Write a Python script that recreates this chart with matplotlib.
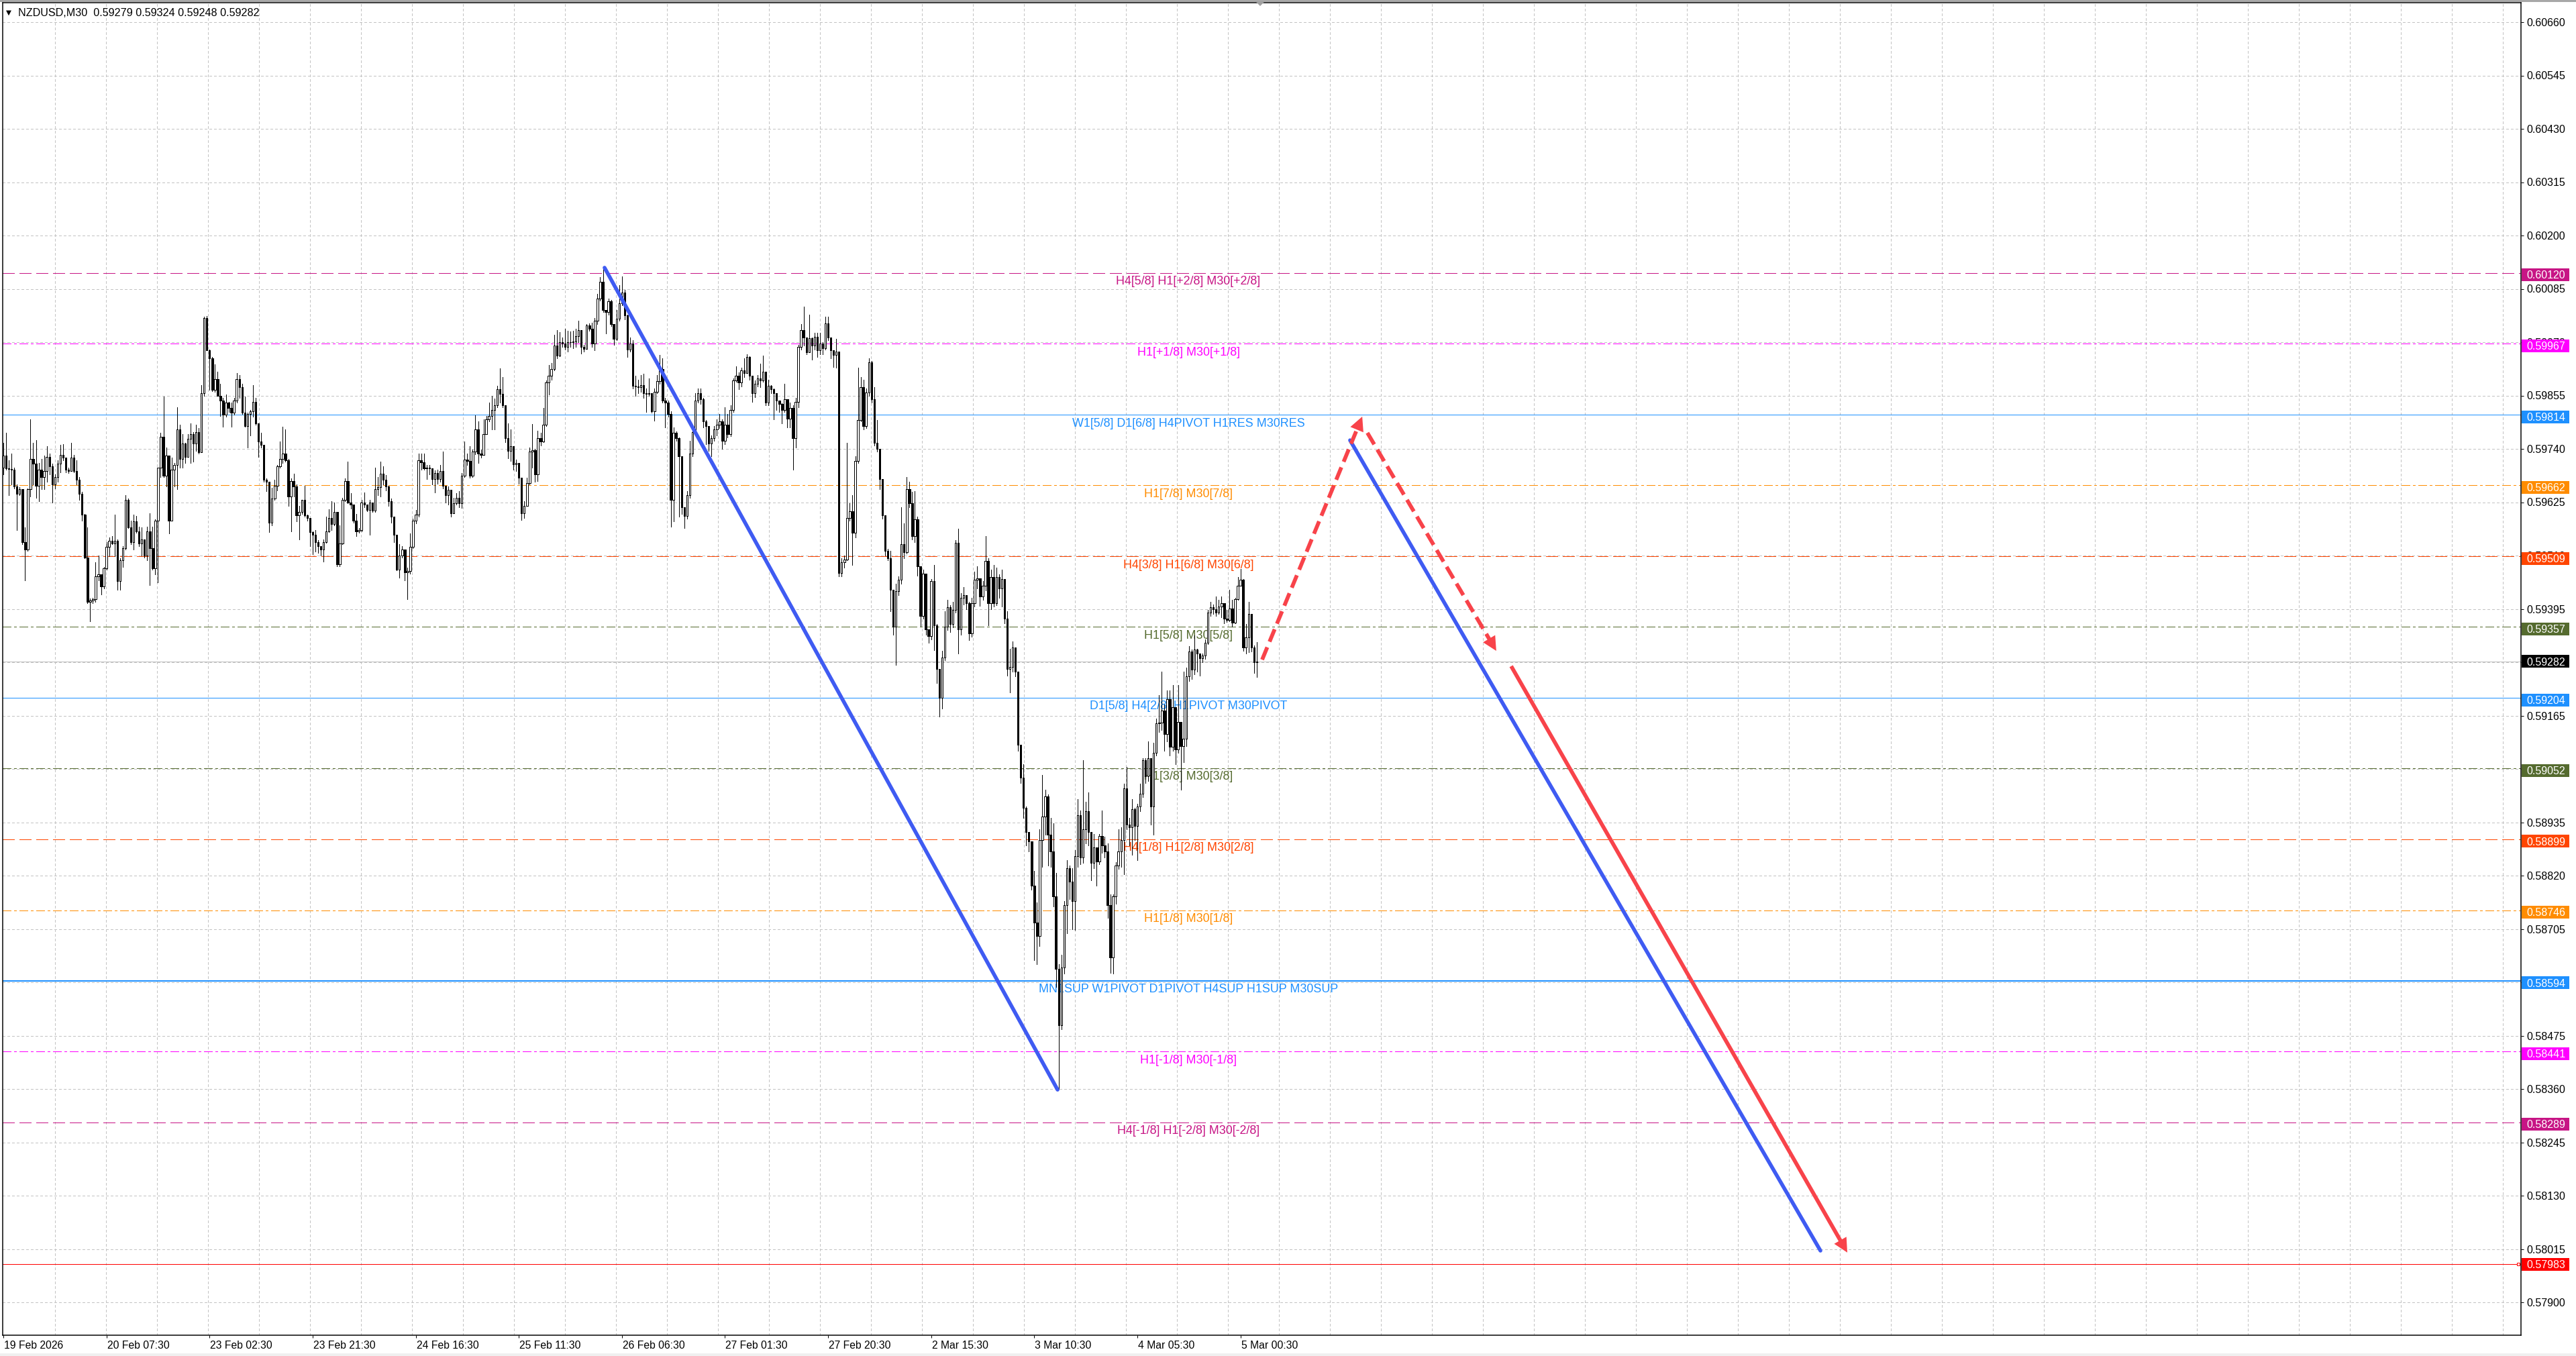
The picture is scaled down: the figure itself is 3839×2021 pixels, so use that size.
import numpy as np
import matplotlib
matplotlib.use("Agg")
import matplotlib.pyplot as plt
from matplotlib.patches import Rectangle, Polygon
from matplotlib.transforms import blended_transform_factory, offset_copy

plt.rcParams['font.family'] = ['Liberation Sans', 'DejaVu Sans']
plt.rcParams['lines.scale_dashes'] = False

# ------------------------------------------------------------------ DATA
title_text = "NZDUSD,M30  0.59279 0.59324 0.59248 0.59282"
PIP = 1e-4
first_open = 5970.0

closes = [
    5972.6, 5969.8, 5969.7, 5969.5, 5966.0, 5964.3, 5965.3, 5954.0, 5952.4, 5965.3,
    5971.8, 5970.8, 5966.1, 5969.5, 5967.9, 5969.2, 5972.3, 5970.3, 5966.4, 5967.9,
    5970.8, 5972.8, 5972.1, 5969.5, 5969.3, 5972.1, 5969.2, 5967.4, 5964.3, 5959.9,
    5950.6, 5941.1, 5941.3, 5941.6, 5946.5, 5947.0, 5944.4, 5948.3, 5952.9, 5954.2,
    5953.7, 5954.2, 5945.5, 5950.1, 5952.7, 5963.0, 5957.1, 5954.0, 5958.4, 5956.3,
    5953.7, 5954.5, 5951.1, 5956.3, 5952.7, 5948.3, 5958.6, 5970.0, 5976.7, 5968.2,
    5972.6, 5958.6, 5969.5, 5970.5, 5978.3, 5971.8, 5975.2, 5972.3, 5976.2, 5977.2,
    5975.2, 5977.7, 5973.3, 5986.0, 6002.3, 5995.3, 5993.5, 5986.8, 5989.1, 5985.5,
    5984.5, 5981.4, 5984.0, 5982.9, 5981.9, 5984.5, 5989.1, 5987.3, 5981.9,
    5979.0, 5981.5, 5982.2, 5984.2, 5979.6, 5975.7, 5974.9, 5967.4, 5966.9, 5958.1,
    5963.3, 5966.1, 5970.3, 5971.8, 5973.1, 5971.6, 5963.8, 5967.1, 5966.0, 5959.7,
    5960.4, 5963.0, 5959.7, 5959.1, 5956.1, 5955.5,
    5954.0, 5953.0, 5952.4,
    5954.0, 5956.3, 5959.1, 5957.8, 5960.4, 5949.1, 5953.7, 5963.0, 5967.1, 5962.5,
    5962.0, 5958.6, 5956.3, 5956.6, 5962.5, 5962.0, 5960.9, 5962.5, 5960.7, 5965.3,
    5965.8, 5968.7, 5967.4, 5965.9, 5962.8, 5959.4, 5955.5, 5948.0, 5951.1, 5952.4,
    5947.5, 5947.7, 5952.9, 5958.6, 5959.9, 5971.6, 5971.1, 5969.8,
    5970.0, 5969.8, 5967.6, 5968.8, 5967.6, 5969.2, 5966.1, 5964.0, 5965.2, 5960.1,
    5962.3, 5963.5, 5962.3, 5968.3, 5971.7, 5971.5, 5968.3, 5973.4, 5978.2, 5973.1,
    5972.7, 5977.2, 5980.4, 5981.1, 5982.5, 5983.5, 5986.9, 5985.9, 5983.5, 5976.3,
    5973.6, 5974.6, 5970.7, 5971.0, 5967.8, 5960.1, 5961.8, 5966.6, 5973.4, 5973.8,
    5968.5, 5976.3, 5975.7, 5979.2, 5988.3, 5989.8, 5991.2, 5996.3, 5994.1, 5997.0,
    5996.8, 5996.0, 5997.0, 5997.1, 5997.2, 5998.4, 5999.6, 5996.0, 5995.6, 6000.6,
    5999.9, 5996.8, 6001.6, 6006.4, 6010.0, 6004.0, 6003.5, 6005.9, 6000.9, 5997.7,
    6002.1, 6005.4, 6007.8, 6002.8,
    5995.5, 5996.8, 5987.6, 5987.5, 5987.4, 5987.8, 5986.0, 5985.9, 5986.0, 5982.1,
    5986.4, 5988.6, 5991.2, 5984.5, 5984.0, 5981.6, 5963.0, 5977.5, 5976.3, 5972.4,
    5961.5, 5959.6, 5964.0, 5973.1, 5977.7, 5984.5,
    5986.1, 5984.7, 5979.9, 5979.0, 5975.2, 5976.3, 5978.2, 5979.2, 5979.9, 5975.8,
    5979.2, 5977.2, 5982.5, 5988.8, 5989.8, 5988.3, 5991.0, 5990.4, 5993.9, 5989.8,
    5986.1, 5988.0, 5989.3, 5988.8, 5990.7, 5984.0, 5987.6, 5986.9, 5986.1, 5984.5,
    5983.7, 5982.5, 5984.7, 5980.6, 5982.8, 5976.3, 5984.2, 5996.0, 5999.6, 5998.0,
    5994.8, 5997.9, 5996.3, 5998.2, 5995.3, 5996.8, 5995.8, 6001.1, 5998.0, 5995.3, 5994.3,
    5995.0, 5947.3, 5949.6, 5950.2, 5959.1, 5960.6, 5956.0, 5971.5, 5980.3, 5987.4,
    5978.9, 5986.2, 5992.7, 5984.8, 5975.3, 5974.0, 5967.6, 5959.7, 5952.0, 5950.5,
    5943.7, 5935.7, 5943.4, 5945.8, 5953.5, 5951.8, 5965.3, 5962.3, 5955.2, 5958.8,
    5948.7, 5938.1, 5947.2, 5935.2, 5933.7, 5945.5, 5936.0, 5926.6, 5920.4, 5929.0,
    5935.7, 5939.9, 5936.3, 5939.3, 5953.8,
    5935.2, 5941.9, 5942.5, 5940.8, 5934.3, 5940.8, 5945.8, 5946.1, 5942.2, 5944.6,
    5949.9, 5940.8, 5946.4, 5940.8, 5946.4, 5944.0, 5946.0, 5937.5,
    5926.6, 5927.0, 5931.3, 5926.0,
    5910.2, 5903.1, 5896.7, 5891.5, 5889.4, 5879.9, 5872.0, 5869.0, 5889.7, 5894.8,
    5899.1, 5890.9, 5887.2, 5877.5, 5862.0, 5849.8, 5862.3, 5875.7, 5883.6, 5880.8,
    5876.6, 5886.3, 5895.1, 5886.0,
    5892.0, 5896.0, 5891.5, 5884.8, 5888.2, 5885.1, 5890.6, 5888.5, 5887.2,
    5875.7, 5864.4, 5877.5, 5884.2, 5887.2, 5889.7,
    5900.9, 5893.0, 5892.4, 5896.4, 5892.7, 5897.0, 5899.7, 5907.0, 5903.4, 5907.3,
    5897.0, 5908.5, 5914.9, 5915.0, 5917.7, 5912.5, 5920.1, 5909.8, 5918.3, 5909.2, 5915.2,
    5910.0, 5911.6, 5925.0,
    5930.4, 5926.5, 5930.8, 5929.9, 5928.9, 5929.5, 5932.2, 5938.7, 5939.9, 5939.5,
    5938.7, 5940.0, 5940.8, 5937.5, 5937.2, 5939.6, 5936.6, 5941.7, 5944.6, 5945.8,
    5931.3, 5933.4, 5938.4, 5931.3, 5928.1, 5928.2,
]

highs = [
    5975.4, 5977.5, 5971.6, 5973.1, 5970.0, 5966.4, 5965.8, 5965.3, 5957.1, 5965.5,
    5980.4, 5975.4, 5975.9, 5971.0, 5971.8, 5972.6, 5974.6, 5973.1, 5970.8, 5968.5,
    5971.6, 5974.9, 5975.1, 5971.0, 5970.0, 5975.4, 5972.8, 5971.6, 5967.9, 5964.8,
    5960.0, 5957.1, 5941.8, 5941.9, 5949.6, 5951.1, 5946.9, 5948.6, 5954.0, 5955.0,
    5955.3, 5959.9, 5954.5, 5950.4, 5953.0, 5964.0, 5963.4, 5958.6, 5959.9, 5959.6,
    5957.3, 5957.1, 5954.5, 5957.3, 5960.2, 5957.3, 5958.9, 5970.0, 5977.5, 5985.3,
    5974.4, 5972.6, 5972.1, 5971.0, 5983.0, 5979.3, 5977.2, 5975.4, 5977.2, 5979.6,
    5977.7, 5979.3, 5978.5, 5987.8, 6002.6, 6002.7, 5995.5, 5993.8, 5992.2, 5990.7,
    5988.1, 5985.0, 5985.8, 5984.2, 5984.0, 5985.0, 5990.4, 5989.9, 5988.1,
    5985.3, 5981.9, 5982.5, 5987.8, 5985.0, 5979.6, 5977.5, 5974.9, 5967.7, 5966.9,
    5965.6, 5967.4, 5970.5, 5975.7, 5978.8, 5978.3, 5971.8, 5967.7, 5968.7, 5966.4,
    5961.7, 5963.0, 5966.1, 5959.9, 5959.1, 5956.3,
    5956.6, 5954.3, 5953.0,
    5954.5, 5959.4, 5961.0, 5962.8, 5962.5, 5960.4, 5957.6, 5963.5, 5967.7, 5971.3,
    5964.5, 5962.0, 5960.0, 5957.0, 5963.0, 5964.6, 5962.0, 5963.0, 5962.5, 5970.0,
    5968.0, 5971.3, 5970.3, 5968.4, 5966.1, 5963.3, 5959.4, 5955.5, 5953.5, 5953.0,
    5952.4, 5948.5, 5955.8, 5959.0, 5960.9, 5973.1, 5973.1, 5973.1,
    5970.5, 5970.5, 5969.8, 5969.4, 5969.5, 5970.5, 5973.4, 5966.0, 5966.0, 5965.0,
    5963.5, 5964.5, 5965.0, 5968.8, 5975.6, 5973.1, 5974.6, 5973.9, 5981.3, 5979.9,
    5973.9, 5980.4, 5981.1, 5984.0, 5985.4, 5984.9, 5987.6, 5991.4, 5989.5, 5983.5,
    5979.6, 5978.2, 5974.6, 5971.7, 5971.0, 5967.8, 5962.8, 5967.8, 5974.3, 5979.4,
    5974.0, 5977.9, 5977.5, 5982.8, 5988.8, 5992.1, 5992.5, 5998.7, 5999.7, 5999.2,
    5998.0, 5999.9, 5999.5, 5999.4, 5999.5, 5999.9, 6001.6, 5999.6, 5996.5, 6001.0,
    6001.1, 6001.3, 6002.3, 6007.4, 6011.0, 6013.3, 6004.0, 6006.4, 6006.2, 6001.0,
    6004.0, 6009.3, 6011.2, 6008.3,
    6003.0, 5998.0, 5997.5, 5989.8, 5989.0, 5990.0, 5990.2, 5987.0, 5989.3, 5986.0,
    5987.0, 5990.0, 5994.3, 5993.6, 5985.0, 5984.5, 5982.1, 5978.7, 5977.8, 5976.5,
    5972.4, 5961.5, 5965.0, 5975.8, 5978.7, 5986.0,
    5987.1, 5987.1, 5985.0, 5980.2, 5979.0, 5977.0, 5978.9, 5980.4, 5981.6, 5980.4,
    5983.0, 5981.5, 5983.5, 5989.3, 5991.9, 5990.5, 5991.5, 5993.6, 5994.4, 5994.0,
    5989.8, 5988.8, 5990.0, 5992.4, 5994.1, 5990.7, 5989.0, 5987.8, 5987.0, 5986.1,
    5984.5, 5983.9, 5988.1, 5984.7, 5984.0, 5983.5, 5985.0, 5996.5, 6001.0, 6004.7,
    5998.0, 6003.0, 5998.0, 5999.0, 5999.0, 5999.0, 5997.0, 6002.5, 6002.5, 5998.0, 5995.3,
    5997.8, 5995.0, 5950.5, 5951.0, 5975.3, 5962.3, 5964.0, 5972.4, 5991.5, 5989.5,
    5988.9, 5987.0, 5993.6, 5993.0, 5987.4, 5980.3, 5974.0, 5967.6, 5959.7, 5952.5,
    5952.0, 5943.7, 5945.0, 5946.5, 5961.4, 5958.0, 5967.9, 5967.0, 5964.8, 5965.0,
    5959.5, 5948.7, 5948.0, 5947.2, 5935.2, 5946.0, 5949.0, 5936.3, 5926.6, 5930.5,
    5939.0, 5941.5, 5940.3, 5941.0, 5954.4,
    5956.9, 5943.0, 5944.3, 5942.5, 5941.0, 5942.0, 5947.6, 5948.8, 5946.1, 5945.5,
    5955.2, 5950.5, 5948.0, 5949.0, 5948.5, 5947.0, 5948.0, 5946.0,
    5939.0, 5931.0, 5932.5, 5931.3,
    5926.0, 5910.2, 5906.1, 5897.0, 5891.5, 5889.5, 5883.0, 5876.3, 5892.1, 5903.7,
    5900.6, 5899.5, 5894.5, 5893.3, 5882.7, 5863.0, 5865.0, 5876.5, 5885.4, 5884.2,
    5883.6, 5887.5, 5898.5, 5896.1,
    5907.0, 5898.0, 5900.0, 5891.5, 5891.0, 5888.2, 5891.0, 5896.1, 5890.5,
    5889.0, 5878.0, 5878.0, 5885.0, 5892.1, 5892.4,
    5901.8, 5905.5, 5894.5, 5898.5, 5896.7, 5897.5, 5901.8, 5907.3, 5907.3, 5911.0,
    5907.3, 5910.7, 5915.9, 5921.0, 5926.0, 5919.0, 5922.0, 5922.0, 5923.2, 5918.3, 5923.2,
    5912.0, 5926.0, 5926.9,
    5931.5, 5930.8, 5933.9, 5931.0, 5930.0, 5930.0, 5933.0, 5939.3, 5941.1, 5940.5,
    5942.2, 5941.5, 5942.2, 5938.0, 5939.3, 5943.7, 5941.5, 5942.0, 5946.4, 5948.2,
    5946.0, 5936.3, 5941.1, 5938.4, 5931.6, 5932.4,
]

lows = [
    5968.5, 5969.5, 5964.1, 5966.4, 5965.5, 5956.6, 5964.0, 5953.5, 5945.7, 5952.0,
    5963.8, 5966.4, 5963.5, 5962.8, 5965.3, 5965.3, 5966.9, 5968.5, 5962.5, 5965.5,
    5966.9, 5969.0, 5971.6, 5969.0, 5968.8, 5969.7, 5969.0, 5966.4, 5963.0, 5958.6,
    5950.4, 5940.8, 5936.9, 5940.8, 5941.0, 5945.7, 5942.6, 5944.0, 5948.0, 5950.9,
    5953.5, 5950.9, 5943.6, 5943.6, 5948.6, 5952.4, 5957.0, 5953.5, 5952.4, 5956.0,
    5953.0, 5951.1, 5950.6, 5950.1, 5944.7, 5948.0, 5947.0, 5945.2, 5968.0, 5968.0,
    5966.0, 5955.8, 5958.6, 5966.0, 5965.3, 5970.0, 5970.0, 5971.0, 5972.6, 5971.0,
    5971.3, 5973.6, 5973.0, 5975.7, 5985.5, 5995.3, 5986.8, 5986.5, 5986.3, 5985.5,
    5981.1, 5978.8, 5981.0, 5982.0, 5978.8, 5981.4, 5984.0, 5985.0, 5981.6,
    5978.8, 5974.4, 5977.0, 5981.0, 5979.3, 5972.3, 5974.4, 5967.0, 5964.9, 5956.1,
    5957.6, 5963.0, 5965.1, 5970.0, 5971.0, 5971.3, 5961.7, 5956.3, 5963.8, 5958.4,
    5954.5, 5960.0, 5959.4, 5958.6, 5953.0, 5951.4,
    5951.9, 5951.6, 5951.1,
    5949.8, 5953.8, 5956.1, 5956.6, 5957.5, 5948.8, 5948.8, 5953.5, 5962.8, 5962.3,
    5961.2, 5958.1, 5955.3, 5956.0, 5956.3, 5961.5, 5960.6, 5955.5, 5960.4, 5960.5,
    5964.0, 5963.8, 5966.4, 5965.1, 5961.7, 5958.1, 5954.0, 5947.8, 5946.2, 5950.6,
    5945.7, 5941.6, 5947.2, 5952.7, 5958.0, 5959.5, 5969.5, 5969.5,
    5967.6, 5968.5, 5966.4, 5964.7, 5966.5, 5967.0, 5965.5, 5962.5, 5962.0, 5959.4,
    5961.0, 5962.0, 5961.5, 5961.3, 5968.0, 5970.5, 5967.8, 5968.0, 5972.9, 5971.0,
    5972.2, 5972.7, 5977.7, 5980.0, 5978.2, 5978.2, 5983.0, 5984.0, 5983.0, 5975.5,
    5972.0, 5971.4, 5969.5, 5969.3, 5966.5, 5958.7, 5959.1, 5961.8, 5966.4, 5970.0,
    5967.0, 5967.1, 5974.8, 5975.5, 5979.0, 5985.7, 5989.0, 5991.0, 5993.5, 5994.0,
    5996.0, 5995.5, 5995.0, 5996.0, 5995.8, 5996.0, 5997.0, 5994.6, 5995.0, 5996.0,
    5999.5, 5996.0, 5995.3, 6001.0, 6006.0, 6003.5, 5998.9, 6003.0, 6000.5, 5996.5,
    5997.5, 6001.6, 6005.0, 6002.0,
    5993.9, 5995.0, 5987.0, 5985.4, 5986.0, 5986.4, 5985.0, 5982.0, 5985.5, 5981.8,
    5980.1, 5986.0, 5988.0, 5984.0, 5978.7, 5981.0, 5957.2, 5958.4, 5975.8, 5959.4,
    5960.0, 5957.0, 5959.0, 5963.5, 5972.5, 5977.0,
    5984.0, 5983.8, 5978.7, 5975.0, 5973.6, 5972.5, 5975.8, 5977.0, 5978.5, 5974.1,
    5975.0, 5976.5, 5976.8, 5982.0, 5988.5, 5986.9, 5987.5, 5989.5, 5990.5, 5989.0,
    5984.2, 5985.2, 5987.5, 5987.3, 5988.5, 5983.5, 5983.5, 5986.0, 5980.4, 5982.5,
    5982.0, 5979.6, 5982.0, 5978.7, 5978.7, 5969.5, 5974.4, 5983.0, 5995.5, 5996.3,
    5994.5, 5995.0, 5993.3, 5995.5, 5993.9, 5994.5, 5994.5, 5995.5, 5997.5, 5993.6, 5991.7,
    5991.5, 5946.5, 5946.5, 5948.5, 5950.0, 5958.5, 5949.0, 5955.0, 5971.0, 5980.0,
    5978.3, 5978.5, 5985.5, 5984.0, 5974.8, 5973.5, 5965.3, 5959.0, 5951.0, 5950.0,
    5939.0, 5934.0, 5927.5, 5942.5, 5945.0, 5950.5, 5951.5, 5961.5, 5954.5, 5954.0,
    5946.7, 5935.8, 5937.5, 5934.0, 5932.2, 5933.0, 5930.7, 5923.6, 5916.3, 5918.0,
    5928.5, 5935.0, 5934.5, 5935.5, 5938.8,
    5930.0, 5934.0, 5940.5, 5939.5, 5932.8, 5933.5, 5940.0, 5944.0, 5940.2, 5941.5,
    5943.5, 5936.0, 5939.5, 5940.0, 5940.3, 5942.0, 5940.0, 5936.5,
    5925.1, 5921.6, 5926.0, 5925.0,
    5909.0, 5902.0, 5894.5, 5888.5, 5887.2, 5879.0, 5863.8, 5862.9, 5866.9, 5884.0,
    5890.9, 5884.2, 5883.9, 5875.4, 5858.0, 5836.1, 5848.9, 5861.0, 5869.6, 5877.0,
    5870.5, 5870.3, 5884.0, 5884.5,
    5884.8, 5889.0, 5888.5, 5881.1, 5883.6, 5879.9, 5884.5, 5887.0, 5886.0,
    5873.0, 5861.1, 5861.0, 5876.0, 5883.5, 5884.0,
    5882.4, 5892.0, 5888.5, 5886.6, 5889.7, 5885.4, 5896.0, 5899.0, 5902.0, 5902.5,
    5893.0, 5890.9, 5908.0, 5913.0, 5913.5, 5909.0, 5911.0, 5907.9, 5909.0, 5906.1, 5908.5,
    5900.6, 5906.5, 5910.0,
    5924.0, 5924.5, 5925.5, 5926.0, 5925.1, 5928.0, 5928.8, 5932.0, 5938.0, 5938.5,
    5938.0, 5938.5, 5937.8, 5936.5, 5936.7, 5936.8, 5935.7, 5936.5, 5941.5, 5944.5,
    5930.5, 5930.0, 5930.2, 5930.4, 5925.7, 5924.8,
]

price_ticks = [0.60660, 0.60545, 0.60430, 0.60315, 0.60200, 0.60085, 0.59970, 0.59855,
               0.59740, 0.59625, 0.59510, 0.59395, 0.59280, 0.59165, 0.59050, 0.58935,
               0.58820, 0.58705, 0.58590, 0.58475, 0.58360, 0.58245, 0.58130, 0.58015,
               0.57900]

date_labels = ["19 Feb 2026", "20 Feb 07:30", "23 Feb 02:30", "23 Feb 21:30", "24 Feb 16:30",
               "25 Feb 11:30", "26 Feb 06:30", "27 Feb 01:30", "27 Feb 20:30", "2 Mar 15:30",
               "3 Mar 10:30", "4 Mar 05:30", "5 Mar 00:30"]
date_bars = [0, 38, 76, 114, 152, 190, 228, 266, 304, 342, 380, 418, 456]

level_prices = [0.60120, 0.59967, 0.59814, 0.59662, 0.59509, 0.59357, 0.59204,
                0.59052, 0.58899, 0.58746, 0.58594, 0.58441, 0.58289]
level_texts = ["H4[5/8] H1[+2/8] M30[+2/8]", "H1[+1/8] M30[+1/8]",
               "W1[5/8] D1[6/8] H4PIVOT H1RES M30RES", "H1[7/8] M30[7/8]",
               "H4[3/8] H1[6/8] M30[6/8]", "H1[5/8] M30[5/8]",
               "D1[5/8] H4[2/8] H1PIVOT M30PIVOT", "H1[3/8] M30[3/8]",
               "H4[1/8] H1[2/8] M30[2/8]", "H1[1/8] M30[1/8]",
               "MN1SUP W1PIVOT D1PIVOT H4SUP H1SUP M30SUP", "H1[-1/8] M30[-1/8]",
               "H4[-1/8] H1[-2/8] M30[-2/8]"]
level_colors = ['#C71585', '#FF00FF', '#1E90FF', '#FF8C00', '#FF4500', '#556B2F', '#1E90FF',
                '#556B2F', '#FF4500', '#FF8C00', '#1E90FF', '#FF00FF', '#C71585']
level_styles = ['dash', 'dashdot', 'solid', 'dashdot', 'dash', 'dashdot', 'solid',
                'dashdot', 'dash', 'dashdot', 'solid', 'dashdot', 'dash']
level_widths = [1, 1, 1, 1, 1, 1, 1, 1, 1, 1, 2, 1, 1]

bid_price = 0.59282
target_price = 0.57983

# projection lines (bar index, price)
blue_lines = [((221.6, 0.60131), (388.6, 0.58359)),
              ((496.4, 0.59759), (669.8, 0.58012))]
red_dashed_arrows = [((464.0, 0.59286), (500.9, 0.59810)),
                     ((502.8, 0.59775), (550.3, 0.59305))]
red_solid_arrows = [((555.8, 0.59272), (679.7, 0.58008))]

# ------------------------------------------------------------------ FIGURE
W, H = 3839, 2021
DPI = 100
PX = 72.0 / DPI

fig = plt.figure(figsize=(W / DPI, H / DPI), dpi=DPI, facecolor='white')
AX_L, AX_R, AX_T, AX_B = 4, 3757, 4, 1990
ax = fig.add_axes([AX_L / W, 1 - AX_B / H, (AX_R - AX_L) / W, (AX_B - AX_T) / H])
ax.set_facecolor('white')

BAR_PX = 4.043
BAR0_PX = 5.0
ax.set_xlim((AX_L - BAR0_PX) / BAR_PX, (AX_R - BAR0_PX) / BAR_PX)
PPX = 69140.0
REF_P, REF_Y = 0.60660, 33.2
ax.set_ylim(REF_P - (AX_B - REF_Y) / PPX, REF_P + (REF_Y - AX_T) / PPX)

for s in ax.spines.values():
    s.set_linewidth(1.5 * PX)
    s.set_color('black')

grid_c = '#C3C3C3'
for k in range(1, 50):
    xg = (6 + 76 * k - BAR0_PX) / BAR_PX
    ax.axvline(xg, color=grid_c, lw=PX, dashes=(4 * PX, 3 * PX), antialiased=False, zorder=0)
for p in price_ticks:
    ax.axhline(p, color=grid_c, lw=PX, dashes=(4 * PX, 3 * PX), antialiased=False, zorder=0)

# ticks
ax.set_xticks(date_bars)
ax.tick_params(axis='x', direction='out', length=4 * PX, width=PX, labelbottom=False)
ax.yaxis.set_ticks_position('right')
ax.set_yticks(price_ticks)
ax.tick_params(axis='y', direction='out', length=4 * PX, width=PX,
               labelright=False, labelleft=False)

# level lines
style_map = {'dash': (18 * PX, 8 * PX), 'dashdot': (13 * PX, 5 * PX, 3 * PX, 5 * PX)}
for p, c, st, wdt in zip(level_prices, level_colors, level_styles, level_widths):
    if st == 'solid':
        ax.axhline(p, color=c, lw=wdt * PX, antialiased=False, zorder=2)
    else:
        ax.axhline(p, color=c, lw=wdt * PX, dashes=style_map[st], antialiased=False, zorder=2)
ax.axhline(bid_price, color='#C0C0C0', lw=PX, antialiased=False, zorder=1.5)
ax.axhline(target_price, color='#FF0000', lw=PX, antialiased=False, zorder=2)

# level texts
lab_bar = (1771 - BAR0_PX) / BAR_PX
for p, t, c in zip(level_prices, level_texts, level_colors):
    tr = offset_copy(ax.transData, fig=fig, x=0, y=-17.5, units='dots')
    ax.text(lab_bar, p, t, color=c, fontsize=12.9, ha='center', va='baseline',
            transform=tr, zorder=3)

# candles
c = np.array(closes) * PIP
o = np.concatenate([[first_open * PIP], c[:-1]])
hi = np.maximum(np.array(highs) * PIP, np.maximum(o, c))
lo = np.minimum(np.array(lows) * PIP, np.minimum(o, c))
xb = np.arange(len(c))
ax.vlines(xb, lo, hi, colors='black', lw=PX, antialiased=False, zorder=4)
bot = np.minimum(o, c)
bh = np.maximum(np.abs(c - o), 0.000006)
up = c >= o
ax.bar(xb[up], bh[up], bottom=bot[up], width=0.6, facecolor='white', edgecolor='black',
       linewidth=PX, antialiased=False, zorder=5)
ax.bar(xb[~up], bh[~up], bottom=bot[~up], width=0.6, facecolor='black', edgecolor='black',
       linewidth=PX, antialiased=False, zorder=5)

# projection lines
BLUE = '#3F5BF2'
RED = '#F8434A'
for (x0, y0), (x1, y1) in blue_lines:
    ax.plot([x0, x1], [y0, y1], color=BLUE, lw=5.6 * PX, solid_capstyle='round', zorder=7)


def draw_arrow(start, tip, dashed):
    T = ax.transData
    sp = T.transform(start)
    tp = T.transform(tip)
    d = tp - sp
    d = d / np.hypot(d[0], d[1])
    n = np.array([-d[1], d[0]])
    base = tp - d * 21.0
    pts = np.array([tp, base + n * 10.5, base - n * 10.5])
    ax.add_patch(Polygon(T.inverted().transform(pts), closed=True, facecolor=RED,
                         edgecolor='none', zorder=8))
    shaft_end = T.inverted().transform(base + d * 3.0)
    kw = dict(color=RED, lw=5.8 * PX, zorder=8, solid_capstyle='butt', dash_capstyle='butt')
    if dashed:
        kw['dashes'] = (20 * PX, 9 * PX)
    ax.plot([start[0], shaft_end[0]], [start[1], shaft_end[1]], **kw)


for s0, s1 in red_dashed_arrows:
    draw_arrow(s0, s1, True)
for s0, s1 in red_solid_arrows:
    draw_arrow(s0, s1, False)

# right axis labels
ty = blended_transform_factory(ax.transAxes, ax.transData)
axw = AX_R - AX_L
lab_x = (3765 - AX_L) / axw
for p in price_ticks:
    ax.text(lab_x, p, f'{p:.5f}', fontsize=11.5, color='black', ha='left', va='baseline',
            transform=offset_copy(ty, fig=fig, x=0, y=-5.7, units='dots'),
            clip_on=False, zorder=9)

box_x = (3758 - AX_L) / axw
box_w = 71 / axw
box_items = list(zip(level_prices, level_colors, [3.2] * len(level_prices)))
box_items.append((bid_price, '#000000', 0.0))
box_items.append((target_price, '#FF0000', 0.0))
for p, col, off in box_items:
    yc = p - off / PPX
    ax.add_patch(Rectangle((box_x, yc - 9.5 / PPX), box_w, 19 / PPX, transform=ty,
                           facecolor=col, edgecolor='none', clip_on=False, zorder=10))
    ax.text(lab_x, yc, f'{p:.5f}', fontsize=11.5, color='white', ha='left', va='baseline',
            transform=offset_copy(ty, fig=fig, x=0, y=-5.7, units='dots'),
            clip_on=False, zorder=11)

# small marker at the end of the target line
ax.add_patch(Rectangle(((3751 - AX_L) / axw, target_price - 2 / PPX), 4 / axw, 4 / PPX,
                       transform=ty, facecolor='white', edgecolor='#FF0000', lw=PX,
                       clip_on=False, zorder=6))

# date labels
tx = blended_transform_factory(ax.transData, ax.transAxes)
for b, t in zip(date_bars, date_labels):
    ax.text(b + 0.25, 0, t, fontsize=11.3, color='black', ha='left', va='baseline',
            transform=offset_copy(tx, fig=fig, x=0, y=-19.5, units='dots'), clip_on=False)

# title
fig.text(27 / W, 1 - 23.5 / H, title_text, fontsize=11.6, color='black', ha='left',
         va='baseline')
fig.text(9 / W, 1 - 22 / H, '\u25BC', fontsize=7.5, color='black', ha='left', va='baseline',
         family='DejaVu Sans')

# window decorations
fig.add_artist(Rectangle((0, 1 - 3 / H), 1, 3 / H, transform=fig.transFigure,
                         facecolor='#A8A8A8', edgecolor='none'))
fig.add_artist(Polygon([[1871 / W, 1 - 2 / H], [1885 / W, 1 - 2 / H], [1878 / W, 1 - 9 / H]],
                       closed=True, transform=fig.transFigure, facecolor='#A0A0A0',
                       edgecolor='none'))
fig.add_artist(Rectangle((0, 0), 1, 4 / H, transform=fig.transFigure,
                         facecolor='#F0F0F0', edgecolor='none'))

fig.savefig('out.png', dpi=DPI, facecolor='white')
